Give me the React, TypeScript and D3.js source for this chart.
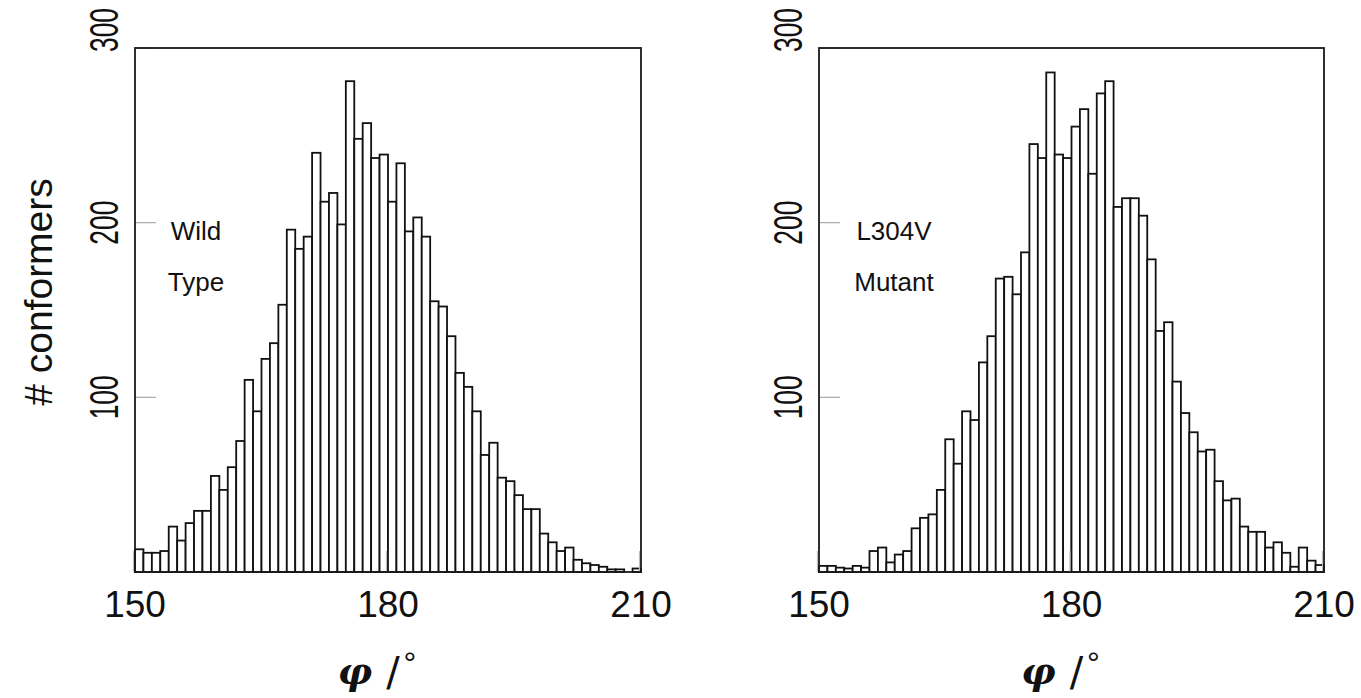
import React, { useRef, useEffect } from "react";
import * as d3 from "d3";

// 1 degree bins from 150 to 210
const binEdges = d3.range(150, 211);

const wildType = [
  13, 11, 11, 12, 26, 18, 28, 35, 35, 55, 47, 60, 75, 110, 92, 122, 131, 153, 196, 185,
  192, 240, 212, 217, 199, 281, 248, 257, 237, 239, 212, 234, 195, 203, 192, 155, 152, 135, 114, 106,
  92, 67, 74, 54, 52, 44, 36, 36, 22, 17, 12, 14, 7, 5, 4, 3, 1.5, 1.5, 0, 2,
];

const mutant = [
  3.5, 3.5, 2.5, 2, 3.5, 2.5, 12, 14, 5.5, 10, 12, 25, 31, 33, 47, 76, 62, 92, 87, 120,
  135, 168, 169, 159, 183, 245, 237, 286, 239, 237, 255, 265, 228, 274, 281, 209, 214, 214, 204, 179,
  138, 143, 109, 91, 80, 69, 70, 52, 41, 42, 26, 23, 23, 14, 17, 11, 3, 14, 6.5, 4,
];

const xTicks = [150, 180, 210];
const yTicks = [100, 200, 300];
const wildLabel = ["Wild", "Type"];
const mutantLabel = ["L304V", "Mutant"];

const SANS = "'Liberation Sans', Arial, sans-serif";

export default function App() {
  const ref = useRef<SVGSVGElement>(null);

  useEffect(() => {
    const svg = d3.select(ref.current);
    svg.selectAll("*").remove();

    const top = 48;
    const bottom = 572;
    const panels = [
      { counts: wildType, label: wildLabel, left: 135, right: 641, labelX: 196, yTitle: true },
      { counts: mutant, label: mutantLabel, left: 819, right: 1324, labelX: 894, yTitle: false },
    ];

    const y = d3.scaleLinear().domain([0, 300]).range([bottom, top]);

    panels.forEach((p) => {
      const x = d3.scaleLinear().domain([150, 210]).range([p.left, p.right]);
      const g = svg.append("g");

      // bars
      g.selectAll("rect.bar")
        .data(p.counts.map((v, i) => ({ x0: binEdges[i], x1: binEdges[i + 1], v })))
        .join("rect")
        .attr("class", "bar")
        .filter((d) => d.v > 0)
        .attr("x", (d) => x(d.x0))
        .attr("width", (d) => x(d.x1) - x(d.x0))
        .attr("y", (d) => y(d.v))
        .attr("height", (d) => y(0) - y(d.v))
        .attr("fill", "#fff")
        .attr("stroke", "#111")
        .attr("stroke-width", 1.8);

      // ticks (inside, grey)
      yTicks.forEach((t) => {
        g.append("line")
          .attr("x1", p.left).attr("x2", p.left + 21)
          .attr("y1", y(t)).attr("y2", y(t))
          .attr("stroke", "#aaa").attr("stroke-width", 1.2);
      });
      xTicks.forEach((t) => {
        g.append("line")
          .attr("x1", x(t) - 1.5).attr("x2", x(t) - 1.5)
          .attr("y1", bottom).attr("y2", bottom - 21)
          .attr("stroke", "#bbb").attr("stroke-width", 1.2);
      });

      // frame
      g.append("rect")
        .attr("x", p.left).attr("y", top)
        .attr("width", p.right - p.left).attr("height", bottom - top)
        .attr("fill", "none")
        .attr("stroke", "#1a1a1a")
        .attr("stroke-width", 1.8);

      // x tick labels
      xTicks.forEach((t) => {
        g.append("text")
          .attr("x", x(t)).attr("y", 617)
          .attr("text-anchor", "middle")
          .attr("font-family", SANS).attr("font-size", 37).attr("fill", "#111")
          .text(t);
      });

      // y tick labels (rotated, condensed)
      yTicks.forEach((t, i) => {
        const last = i === yTicks.length - 1;
        g.append("text")
          .attr("transform", `translate(${p.left - 17},${last ? y(t) + 4 : y(t)}) rotate(-90) scale(0.66,1)`)
          .attr("text-anchor", last ? "start" : "middle")
          .attr("font-family", SANS).attr("font-size", 40).attr("fill", "#111")
          .text(t);
      });

      // x axis title
      const cx = (p.left + p.right) / 2;
      g.append("text")
        .attr("x", cx - 33).attr("y", 684)
        .attr("text-anchor", "middle")
        .attr("font-family", "'DejaVu Serif', serif").attr("font-style", "italic")
        .attr("font-weight", "bold")
        .attr("font-size", 38).attr("fill", "#111")
        .text("φ");
      g.append("text")
        .attr("x", cx + 5).attr("y", 686)
        .attr("text-anchor", "middle")
        .attr("font-family", "'DejaVu Sans', sans-serif").attr("font-size", 40).attr("fill", "#111")
        .text("/");
      g.append("text")
        .attr("x", cx + 22).attr("y", 674)
        .attr("text-anchor", "middle")
        .attr("font-family", SANS).attr("font-size", 32).attr("fill", "#111")
        .text("°");

      // panel label
      p.label.forEach((s, i) => {
        g.append("text")
          .attr("x", p.labelX).attr("y", 240 + i * 51)
          .attr("text-anchor", "middle")
          .attr("font-family", SANS).attr("font-size", 26).attr("fill", "#111")
          .text(s);
      });

      if (p.yTitle) {
        g.append("text")
          .attr("transform", `translate(52,292) rotate(-90)`)
          .attr("text-anchor", "middle")
          .attr("font-family", SANS).attr("font-size", 39).attr("fill", "#111")
          .text("# conformers");
      }
    });
  }, []);

  return (
    <svg
      ref={ref}
      width={1361}
      height={698}
      style={{ position: "absolute", left: 0, top: 0, background: "#fff" }}
    ></svg>
  );
}
